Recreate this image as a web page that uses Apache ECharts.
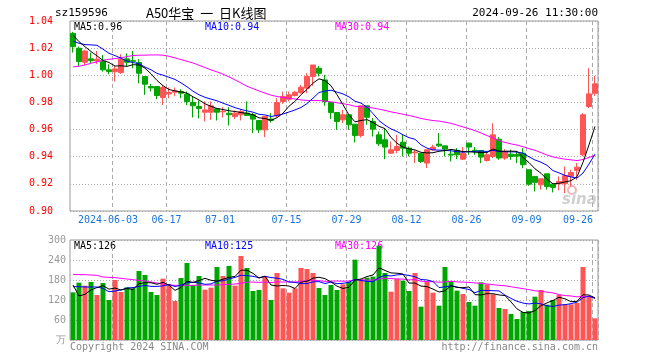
<!DOCTYPE html>
<html>
<head>
<meta charset="utf-8">
<script src="https://cdn.jsdelivr.net/npm/echarts@6/dist/echarts.min.js"></script>
<style>html,body{margin:0;padding:0;background:#fff;}#c{width:660px;height:360px;}</style>
</head>
<body>
<div id="c"></div>
<script>
const categories = [
"2024-05-23","2024-05-24","2024-05-27","2024-05-28","2024-05-29","2024-05-30","2024-05-31",
"2024-06-03","2024-06-04","2024-06-05","2024-06-06","2024-06-07","2024-06-11","2024-06-12","2024-06-13","2024-06-14",
"2024-06-17","2024-06-18","2024-06-19","2024-06-20","2024-06-21","2024-06-24","2024-06-25","2024-06-26","2024-06-27","2024-06-28",
"2024-07-01","2024-07-02","2024-07-03","2024-07-04","2024-07-05","2024-07-08","2024-07-09","2024-07-10","2024-07-11","2024-07-12",
"2024-07-15","2024-07-16","2024-07-17","2024-07-18","2024-07-19","2024-07-22","2024-07-23","2024-07-24","2024-07-25","2024-07-26",
"2024-07-29","2024-07-30","2024-07-31","2024-08-01","2024-08-02","2024-08-05","2024-08-06","2024-08-07","2024-08-08","2024-08-09",
"2024-08-12","2024-08-13","2024-08-14","2024-08-15","2024-08-16","2024-08-19","2024-08-20","2024-08-21","2024-08-22","2024-08-23",
"2024-08-26","2024-08-27","2024-08-28","2024-08-29","2024-08-30","2024-09-02","2024-09-03","2024-09-04","2024-09-05","2024-09-06",
"2024-09-09","2024-09-10","2024-09-11","2024-09-12","2024-09-13","2024-09-18","2024-09-19","2024-09-20",
"2024-09-23","2024-09-24","2024-09-25","2024-09-26"];

const opens = [1.0309,1.0199,1.0096,1.0121,1.0106,1.0101,1.0040,1.0027,1.0020,1.0121,
1.0108,1.0094,0.9991,0.9917,0.9917,0.9836,0.9863,0.9875,0.9880,0.9861,
0.9799,0.9770,0.9728,0.9728,0.9753,0.9731,0.9721,0.9696,0.9709,0.9721,
0.9709,0.9667,0.9598,0.9677,0.9701,0.9807,0.9824,0.9851,0.9873,0.9905,
0.9991,1.0052,0.9966,0.9799,0.9726,0.9672,0.9709,0.9640,0.9556,0.9775,
0.9660,0.9561,0.9525,0.9426,0.9446,0.9507,0.9463,0.9429,0.9426,0.9353,
0.9451,0.9493,0.9480,0.9419,0.9446,0.9382,0.9500,0.9448,0.9446,0.9372,
0.9402,0.9529,0.9390,0.9419,0.9417,0.9426,0.9304,0.9255,0.9193,0.9274,
0.9198,0.9201,0.9201,0.9255,0.9299,0.9414,0.9770,0.9868];
const closes = [1.0211,1.0101,1.0179,1.0108,1.0118,1.0040,1.0027,1.0047,1.0118,1.0096,
1.0103,1.0015,0.9934,0.9907,0.9851,0.9910,0.9873,0.9885,0.9868,0.9807,
0.9775,0.9755,0.9745,0.9775,0.9728,0.9735,0.9709,0.9721,0.9733,0.9704,
0.9677,0.9598,0.9696,0.9667,0.9799,0.9843,0.9856,0.9875,0.9912,0.9991,
1.0076,1.0015,0.9807,0.9726,0.9660,0.9709,0.9635,0.9556,0.9775,0.9691,
0.9603,0.9495,0.9471,0.9451,0.9475,0.9463,0.9426,0.9434,0.9365,0.9451,
0.9471,0.9480,0.9456,0.9412,0.9414,0.9426,0.9471,0.9444,0.9397,0.9414,
0.9561,0.9390,0.9439,0.9402,0.9404,0.9341,0.9198,0.9211,0.9237,0.9181,
0.9174,0.9218,0.9260,0.9284,0.9323,0.9709,0.9863,0.9937];
const lows = [1.0167,1.0064,1.0076,1.0089,1.0084,1.0027,1.0008,0.9954,1.0010,1.0064,
1.0052,0.9941,0.9856,0.9880,0.9824,0.9780,0.9831,0.9848,0.9831,0.9780,
0.9689,0.9682,0.9660,0.9672,0.9667,0.9689,0.9630,0.9677,0.9667,0.9704,
0.9574,0.9574,0.9544,0.9652,0.9691,0.9789,0.9807,0.9843,0.9863,0.9868,
0.9922,0.9991,0.9775,0.9677,0.9598,0.9647,0.9598,0.9505,0.9542,0.9635,
0.9549,0.9480,0.9382,0.9421,0.9426,0.9402,0.9402,0.9353,0.9353,0.9316,
0.9446,0.9471,0.9402,0.9365,0.9382,0.9377,0.9414,0.9414,0.9353,0.9365,
0.9390,0.9377,0.9377,0.9377,0.9353,0.9316,0.9186,0.9144,0.9157,0.9157,
0.9137,0.9152,0.9132,0.9181,0.9230,0.9402,0.9758,0.9848];
const highs = [1.0320,1.0211,1.0187,1.0167,1.0179,1.0150,1.0081,1.0069,1.0155,1.0162,
1.0179,1.0118,0.9991,0.9937,0.9917,0.9929,0.9910,0.9910,0.9897,0.9880,
0.9843,0.9814,0.9807,0.9807,0.9753,0.9765,0.9765,0.9740,0.9745,0.9807,
0.9721,0.9667,0.9696,0.9721,0.9831,0.9880,0.9880,0.9885,0.9929,1.0015,
1.0076,1.0069,1.0003,0.9799,0.9726,0.9745,0.9709,0.9640,0.9775,0.9775,
0.9684,0.9586,0.9610,0.9512,0.9561,0.9561,0.9475,0.9451,0.9426,0.9451,
0.9488,0.9574,0.9480,0.9451,0.9463,0.9471,0.9505,0.9471,0.9446,0.9426,
0.9647,0.9544,0.9456,0.9451,0.9439,0.9463,0.9304,0.9255,0.9237,0.9274,
0.9198,0.9255,0.9328,0.9304,0.9353,0.9721,1.0052,0.9995];

const volumes = [143,172,163,174,135,171,120,180,144,158,
155,207,195,144,135,184,165,117,186,231,
165,192,151,157,219,192,222,163,252,216,
147,150,192,120,201,155,142,155,216,213,
201,156,135,165,150,167,175,241,182,187,
190,283,201,145,183,178,147,201,100,174,
142,103,219,177,148,138,114,103,173,167,
137,96,93,78,63,84,87,130,150,106,
120,135,107,107,111,219,130,65];

// moving-average values for the first days (history before the window)
const ma5Head = [1.0297,1.0248,1.0211,1.0175];
const ma10Head = [1.0253,1.0236,1.0226,1.0224,1.0221,1.0192,1.0162,1.0145,1.0126];
const ma30Head = [1.0062,1.0067,1.0076,1.0089,1.0099,1.0111,1.0118,1.0123,1.0128,1.0138,
1.0145,1.0148,1.0148,1.0150,1.0150,1.0148,1.0140,1.0128,1.0116,1.0103,
1.0091,1.0074,1.0057,1.0040,1.0025,1.0008,0.9988,0.9966,0.9943];
const vma5Head = [165,132,137,150];
const vma10Head = [160,160,159,159,159,155,145,147,150];
const vma30Head = [197,196,196,195,194,189,188,187,185,183,181,179,177,174,171,168,165,164,164,164,164,165,165,165,165,166,167,168,170];

const labelIdx = {7:'a',16:'b',26:'c',36:'b',46:'b',56:'b',66:'b',76:'b',87:'d'};
const gridIdx = [7,16,36,46,56,66,76,87];

function movingAvg(vals, n, head){
  return vals.map((v,i)=>{
    if(i < n-1) return head[i];
    let s=0; for(let k=i-n+1;k<=i;k++) s+=vals[k];
    return +(s/n).toFixed(5);
  });
}
const ma5 = movingAvg(closes,5,ma5Head);
const ma10 = movingAvg(closes,10,ma10Head);
const ma30 = movingAvg(closes,30,ma30Head);
const vma5 = movingAvg(volumes,5,vma5Head);
const vma10 = movingAvg(volumes,10,vma10Head);
const vma30 = movingAvg(volumes,30,vma30Head);

const RED='#ff5555', GREEN='#00a600';
const MONO='"DejaVu Sans Mono", monospace';
const last = categories.length-1;

const chart = echarts.init(document.getElementById('c'), null, {renderer:'canvas'});
const richBase = {color:'#1a73d9', fontSize:10, fontFamily:MONO};
const xSplit = {show:true, interval:(i)=>gridIdx.indexOf(i)>=0, lineStyle:{color:'#aaaaaa', type:[4,3], width:1}};

chart.setOption({
  animation:false,
  backgroundColor:'#fff',
  grid:[
    {left:70, right:62, top:21, height:190, show:true, borderColor:'#999', borderWidth:1},
    {left:70, right:62, top:240, height:100, show:true, borderColor:'#999', borderWidth:1}
  ],
  xAxis:[
    {type:'category', gridIndex:0, data:categories, boundaryGap:true,
     axisLine:{show:false}, axisTick:{show:false},
     axisLabel:{interval:(i)=>labelIdx[i]!==undefined, margin:4,
       formatter:(v,i)=>{const k=labelIdx[i]; const t = i===7? v : v.slice(5); return '{'+k+'|'+t+'}';},
       rich:{
         a:Object.assign({padding:[0,14,0,0]},richBase),
         b:Object.assign({padding:[0,5,0,0]},richBase),
         c:Object.assign({padding:[0,18,0,0]},richBase),
         d:Object.assign({padding:[0,34,0,0]},richBase)
       }},
     splitLine:xSplit},
    {type:'category', gridIndex:1, data:categories, boundaryGap:true,
     axisLine:{show:false}, axisTick:{show:false}, axisLabel:{show:false},
     splitLine:xSplit}
  ],
  yAxis:[
    {type:'value', gridIndex:0, min:0.90, max:1.04, interval:0.02,
     axisLine:{show:false}, axisTick:{show:false},
     axisLabel:{color:'#ff0000', fontSize:10, fontFamily:MONO, margin:17, formatter:(v)=>v.toFixed(2)},
     splitLine:{lineStyle:{color:'#aaaaaa', type:[1,2]}}},
    {type:'value', gridIndex:1, min:0, max:300, interval:60,
     axisLine:{show:false}, axisTick:{show:false},
     axisLabel:{color:'#999999', fontSize:10, fontFamily:MONO, margin:4, formatter:(v)=> v===0 ? '万' : String(v)},
     splitLine:{lineStyle:{color:'#aaaaaa', type:[1,2]}}}
  ],
  series:[
    {type:'candlestick', xAxisIndex:0, yAxisIndex:0, barWidth:5,
     data:categories.map((_,i)=>[opens[i],closes[i],lows[i],highs[i]]),
     itemStyle:{color:RED, color0:GREEN, borderColor:RED, borderColor0:GREEN, borderWidth:1}},
    {type:'line', xAxisIndex:0, yAxisIndex:0, data:ma30, showSymbol:false, symbol:'none', lineStyle:{color:'#ff00ff', width:1}, z:5},
    {type:'line', xAxisIndex:0, yAxisIndex:0, data:ma10, showSymbol:false, symbol:'none', lineStyle:{color:'#0000ff', width:1}, z:6},
    {type:'line', xAxisIndex:0, yAxisIndex:0, data:ma5, showSymbol:false, symbol:'none', lineStyle:{color:'#000000', width:1}, z:7},
    {type:'bar', xAxisIndex:1, yAxisIndex:1, barWidth:5,
     data:volumes.map((v,i)=>({value:v, itemStyle:{color: closes[i]>=opens[i] ? RED : GREEN}}))},
    {type:'line', xAxisIndex:1, yAxisIndex:1, data:vma30, showSymbol:false, symbol:'none', lineStyle:{color:'#ff00ff', width:1}, z:5},
    {type:'line', xAxisIndex:1, yAxisIndex:1, data:vma10, showSymbol:false, symbol:'none', lineStyle:{color:'#0000ff', width:1}, z:6},
    {type:'line', xAxisIndex:1, yAxisIndex:1, data:vma5, showSymbol:false, symbol:'none', lineStyle:{color:'#000000', width:1}, z:7}
  ],
  graphic:[
    {type:'text', x:55, y:13, style:{text:'sz159596', fill:'#000', font:'11px '+MONO, verticalAlign:'middle'}},
    {type:'text', x:146, y:13, style:{text:'A50华宝  一  日K线图', fill:'#000', font:'13px "Noto Sans CJK SC"', verticalAlign:'middle'}},
    {type:'text', x:598, y:13, style:{text:'2024-09-26 11:30:00', fill:'#000', font:'11px '+MONO, align:'right', verticalAlign:'middle'}},
    {type:'text', x:74, y:27, style:{text:'MA5:'+ma5[last].toFixed(2), fill:'#000', font:'10px '+MONO, verticalAlign:'middle'}},
    {type:'text', x:205, y:27, style:{text:'MA10:'+ma10[last].toFixed(2), fill:'#0000ff', font:'10px '+MONO, verticalAlign:'middle'}},
    {type:'text', x:335, y:27, style:{text:'MA30:'+ma30[last].toFixed(2), fill:'#ff00ff', font:'10px '+MONO, verticalAlign:'middle'}},
    {type:'text', x:74, y:246, style:{text:'MA5:'+Math.round(vma5[last]), fill:'#000', font:'10px '+MONO, verticalAlign:'middle'}},
    {type:'text', x:205, y:246, style:{text:'MA10:'+Math.round(vma10[last]), fill:'#0000ff', font:'10px '+MONO, verticalAlign:'middle'}},
    {type:'text', x:335, y:246, style:{text:'MA30:'+Math.round(vma30[last]), fill:'#ff00ff', font:'10px '+MONO, verticalAlign:'middle'}},
    {type:'text', x:70, y:347, style:{text:'Copyright 2024 SINA.COM', fill:'#888', font:'10px '+MONO, verticalAlign:'middle'}},
    {type:'text', x:598, y:347, style:{text:'http://finance.sina.com.cn', fill:'#888', font:'10px '+MONO, align:'right', verticalAlign:'middle'}},
    {type:'circle', shape:{cx:572, cy:190, r:4}, style:{fill:'none', stroke:'#f2b6b6', lineWidth:2}},
    {type:'text', x:562, y:200, style:{text:'sina', fill:'#d0d0d0', font:'italic bold 15px "DejaVu Sans"', verticalAlign:'middle'}}
  ]
});
</script>
</body>
</html>
